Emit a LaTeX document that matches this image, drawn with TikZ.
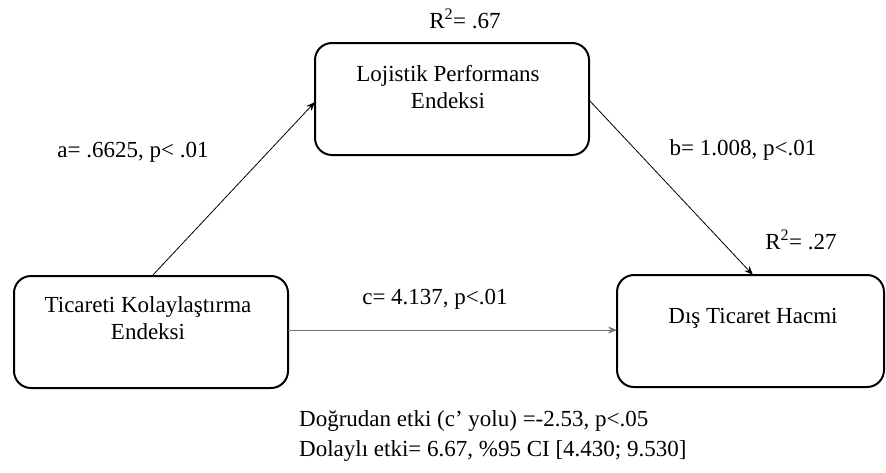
\documentclass[tikz,border=0pt]{standalone}
\usepackage{fontspec}
\setmainfont{Liberation Serif}
\usetikzlibrary{arrows.meta}
\begin{document}
\begin{tikzpicture}[x=1pt,y=-1pt,
  box/.style={draw=black,line width=2pt,rounded corners=17pt},
  lbl/.style={font=\fontsize{23}{27}\selectfont,inner sep=0pt},
  conn/.style={line width=0.8pt,-{Stealth[length=9pt,width=7pt]}}]
\useasboundingbox (0,0) rectangle (886,472);
% boxes
\draw[box] (315,43) rectangle (589,155);
\draw[box] (14,276) rectangle (288,388);
\draw[box] (617,275) rectangle (884,387);
\node[lbl] (lp1) at (448,76) {Lojistik Performans};
\node[lbl] (lp2) at (448,101) {Endeksi};
\node[lbl] (tk1) at (148,307) {Ticareti Kolaylaştırma};
\node[lbl] (tk2) at (148,332) {Endeksi};
\node[lbl] (dt) at (753,318) {Dış Ticaret Hacmi};
% anchor coordinates
\coordinate (tkTop) at (152,276);
\coordinate (lpLeft) at (315,102);
\coordinate (lpRight) at (589,100);
\coordinate (dtTop) at (753,275);
\coordinate (tkRight) at (288,330);
\coordinate (dtLeft) at (617,330);
% connectors
\draw[conn] (tkTop) -- (lpLeft);
\draw[conn] (lpRight) -- (dtTop);
\draw[conn,draw=black!55] (tkRight) -- (dtLeft);
% labels
\node[lbl] (r1) at (465,19) {R\textsuperscript{2}= .67};
\node[lbl] (a) at (133,152) {a= .6625, p< .01};
\node[lbl] (b) at (743,150) {b= 1.008, p<.01};
\node[lbl] (r2) at (801,240) {R\textsuperscript{2}= .27};
\node[lbl] (c) at (435,299) {c= 4.137, p<.01};
\node[lbl,anchor=west] (d1) at (299,421) {Doğrudan etki (c’ yolu) =-2.53, p<.05};
\node[lbl,anchor=west] (d2) at (299,451) {Dolaylı etki= 6.67, \%95 CI [4.430; 9.530]};
\end{tikzpicture}
\end{document}
